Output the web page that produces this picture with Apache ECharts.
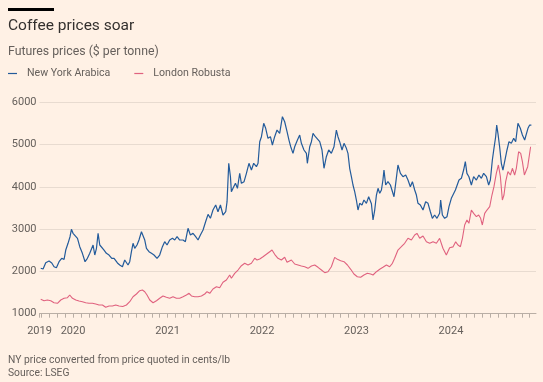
<!DOCTYPE html>
<html><head><meta charset="utf-8">
<script src="https://cdn.jsdelivr.net/npm/echarts@6/dist/echarts.min.js"></script>
<style>html,body{margin:0;padding:0;background:#fff1e5;}#c{width:543px;height:382px;}</style>
</head><body><div id="c"></div><script>
// Dates as decimal years, values in $ per tonne
const arabicaYears = [2019.658,2019.683,2019.711,2019.746,2019.775,2019.799,2019.824,2019.852,2019.880,2019.905,2019.923,2019.947,2019.968,2019.983,2020.000,2020.021,2020.047,2020.071,2020.099,2020.127,2020.152,2020.177,2020.198,2020.212,2020.230,2020.248,2020.265,2020.283,2020.304,2020.328,2020.353,2020.381,2020.410,2020.434,2020.470,2020.494,2020.523,2020.547,2020.582,2020.600,2020.618,2020.635,2020.653,2020.677,2020.698,2020.724,2020.741,2020.759,2020.777,2020.804,2020.830,2020.857,2020.889,2020.917,2020.946,2020.970,2020.995,2021.023,2021.052,2021.076,2021.101,2021.129,2021.164,2021.189,2021.217,2021.242,2021.270,2021.298,2021.323,2021.348,2021.376,2021.404,2021.429,2021.454,2021.481,2021.510,2021.534,2021.560,2021.587,2021.616,2021.630,2021.648,2021.666,2021.676,2021.693,2021.719,2021.740,2021.764,2021.782,2021.810,2021.835,2021.862,2021.888,2021.912,2021.941,2021.958,2021.976,2021.994,2022.018,2022.039,2022.063,2022.089,2022.110,2022.134,2022.159,2022.187,2022.216,2022.240,2022.265,2022.286,2022.304,2022.328,2022.346,2022.375,2022.399,2022.417,2022.444,2022.470,2022.480,2022.505,2022.523,2022.540,2022.565,2022.586,2022.611,2022.635,2022.656,2022.681,2022.706,2022.734,2022.762,2022.787,2022.804,2022.822,2022.847,2022.868,2022.893,2022.910,2022.928,2022.946,2022.963,2022.981,2022.999,2023.016,2023.034,2023.058,2023.079,2023.105,2023.129,2023.158,2023.175,2023.193,2023.211,2023.228,2023.246,2023.264,2023.280,2023.291,2023.309,2023.333,2023.359,2023.380,2023.397,2023.415,2023.439,2023.465,2023.492,2023.521,2023.545,2023.570,2023.592,2023.616,2023.634,2023.651,2023.676,2023.704,2023.732,2023.757,2023.782,2023.803,2023.827,2023.852,2023.880,2023.891,2023.909,2023.933,2023.958,2023.979,2024.004,2024.021,2024.047,2024.063,2024.085,2024.110,2024.134,2024.152,2024.169,2024.190,2024.216,2024.240,2024.269,2024.296,2024.322,2024.346,2024.375,2024.399,2024.417,2024.438,2024.455,2024.473,2024.484,2024.497,2024.515,2024.533,2024.550,2024.571,2024.593,2024.614,2024.639,2024.664,2024.685,2024.709,2024.734,2024.756,2024.780,2024.798,2024.815,2024.833,2024.851];
const arabicaValues = [2074,2057,2206,2246,2200,2111,2088,2230,2310,2286,2506,2665,2821,2996,2901,2939,2783,2585,2428,2230,2310,2428,2388,2625,2388,2547,2901,2625,2665,2506,2428,2388,2310,2310,2200,2152,2111,2270,2152,2230,2466,2665,2547,2625,2743,2939,2980,2743,2547,2466,2428,2388,2310,2388,2585,2703,2625,2743,2783,2743,2821,2743,2743,2703,3020,2861,2901,2821,2743,2861,2980,3180,3350,3256,3452,3571,3412,3571,3334,3412,3649,4557,4240,3885,3966,4084,3966,4320,4084,4122,4320,4557,4398,4557,4477,4557,5068,5186,5503,5385,5148,5186,4990,5186,5344,5267,5659,5540,5305,5100,4949,4793,4949,5108,5226,5030,4872,4793,4557,4949,5068,5267,5186,5226,5068,4872,4439,4713,4872,4793,4949,5344,5186,5068,4872,5030,4911,4793,4439,4240,4044,3885,3689,3452,3610,3571,3689,3610,3767,3600,3216,3452,3807,3966,3847,3925,4162,4398,4044,4122,4044,4084,3767,4084,4517,4320,4240,4280,4162,4004,4122,3925,3807,3610,3571,3452,3649,3610,3412,3256,3334,3256,3374,3689,3334,3256,3295,3531,3729,3689,3925,3885,4162,4202,4398,4595,4320,4240,4044,4240,4162,4280,4202,4320,4240,4044,4162,4635,4911,5186,5462,5267,4949,4557,4398,4439,4872,5068,5030,5148,5068,5503,5385,5226,5108,5068,5385,5462,5462];
const robustaYears = [2019.658,2019.693,2019.729,2019.764,2019.799,2019.835,2019.870,2019.905,2019.941,2019.965,2019.994,2020.029,2020.063,2020.099,2020.134,2020.169,2020.205,2020.240,2020.275,2020.311,2020.346,2020.381,2020.417,2020.452,2020.487,2020.526,2020.565,2020.600,2020.635,2020.671,2020.706,2020.734,2020.759,2020.783,2020.812,2020.847,2020.883,2020.917,2020.952,2020.988,2021.023,2021.058,2021.094,2021.129,2021.164,2021.200,2021.228,2021.253,2021.288,2021.323,2021.359,2021.394,2021.418,2021.447,2021.481,2021.518,2021.552,2021.587,2021.623,2021.658,2021.676,2021.711,2021.746,2021.782,2021.817,2021.852,2021.888,2021.923,2021.947,2021.976,2022.011,2022.046,2022.082,2022.106,2022.134,2022.169,2022.205,2022.240,2022.265,2022.286,2022.311,2022.346,2022.381,2022.417,2022.452,2022.487,2022.523,2022.558,2022.593,2022.629,2022.664,2022.698,2022.734,2022.769,2022.798,2022.833,2022.868,2022.904,2022.939,2022.973,2023.009,2023.044,2023.079,2023.115,2023.150,2023.175,2023.211,2023.246,2023.280,2023.317,2023.351,2023.380,2023.404,2023.439,2023.475,2023.510,2023.545,2023.581,2023.616,2023.640,2023.669,2023.704,2023.740,2023.775,2023.810,2023.846,2023.880,2023.915,2023.951,2023.986,2024.021,2024.050,2024.074,2024.100,2024.121,2024.145,2024.169,2024.190,2024.216,2024.240,2024.269,2024.293,2024.314,2024.332,2024.357,2024.381,2024.410,2024.434,2024.455,2024.480,2024.502,2024.523,2024.544,2024.561,2024.579,2024.603,2024.629,2024.650,2024.674,2024.692,2024.716,2024.738,2024.756,2024.777,2024.798,2024.812,2024.826,2024.843];
const robustaValues = [1340,1307,1324,1307,1260,1246,1324,1364,1378,1442,1364,1324,1300,1284,1260,1246,1246,1229,1206,1206,1151,1182,1182,1206,1182,1170,1206,1284,1402,1466,1544,1560,1520,1442,1324,1260,1307,1364,1419,1388,1364,1402,1364,1364,1402,1442,1482,1419,1402,1402,1419,1466,1520,1482,1584,1639,1615,1742,1797,1915,1837,1955,2033,2135,2192,2152,2192,2310,2270,2294,2348,2405,2466,2506,2405,2310,2270,2335,2216,2260,2270,2175,2152,2128,2111,2073,2128,2152,2097,2033,1970,1993,2111,2333,2286,2253,2230,2152,2050,1939,1875,1861,1915,1955,1939,1915,1993,2050,2097,2152,2111,2192,2310,2506,2585,2665,2783,2743,2861,2901,2783,2838,2703,2665,2703,2665,2783,2547,2388,2560,2580,2700,2625,2585,2783,3098,3216,3138,3452,3374,3295,3334,3256,3098,3374,3452,3531,3807,4004,4320,4517,4240,3689,3807,4122,4359,4280,4439,4280,4439,4831,4793,4595,4280,4240,4477,4439,4949];
const yearTickPositions = [2019.645, 2020, 2021, 2022, 2023, 2024];
const yearTickLabels = ['2019', '2020', '2021', '2022', '2023', '2024'];
const seriesNames = ['New York Arabica', 'London Robusta'];
const xMin = 2019.645, xMax = 2024.9;

const monthTicks = [xMin];
for (let m = Math.ceil(xMin * 12); m / 12 <= xMax; m++) monthTicks.push(m / 12);

const chart = echarts.init(document.getElementById('c'), null, {renderer: 'canvas'});
const grey = '#66605c';
const font = 'Roboto, "Noto Sans", sans-serif';
chart.setOption({
  backgroundColor: '#fff1e5',
  animation: false,
  textStyle: {fontFamily: font},
  grid: {left: 39.5, right: 7, top: 102.3, bottom: 68.3, outerBoundsMode: 'none'},
  legend: {
    data: seriesNames, left: 8, top: 68, padding: 0, itemGap: 24,
    itemWidth: 9, itemHeight: 1.2, icon: 'rect',
    textStyle: {fontSize: 10.6, color: grey, fontFamily: font, padding: [0, 0, 0, 5]}
  },
  graphic: [
    {type: 'rect', left: 8, top: 8, shape: {width: 46, height: 3}, style: {fill: '#000'}},
    {type: 'text', left: 8, top: 18.5, style: {text: 'Coffee prices soar', font: '15.5px ' + font, fill: '#33302e'}},
    {type: 'text', left: 8, top: 45.5, style: {text: 'Futures prices ($ per tonne)', font: '12.3px ' + font, fill: grey}},
    {type: 'text', left: 8, top: 355.5, style: {text: 'NY price converted from price quoted in cents/lb', font: '10.3px ' + font, fill: grey}},
    {type: 'text', left: 8, top: 368.5, style: {text: 'Source: LSEG', font: '10.3px ' + font, fill: grey}}
  ],
  xAxis: {
    type: 'value', min: xMin, max: xMax,
    splitLine: {show: false},
    axisLine: {show: true, lineStyle: {color: '#b9aea5', width: 1}},
    axisTick: {show: true, customValues: monthTicks, length: 4, lineStyle: {color: '#b9aea5'}},
    axisLabel: {
      customValues: yearTickPositions, margin: 12, fontSize: 11, color: grey, fontFamily: font,
      formatter: v => {
        let best = 0;
        yearTickPositions.forEach((p, i) => { if (Math.abs(p - v) < Math.abs(yearTickPositions[best] - v)) best = i; });
        return yearTickLabels[best];
      }
    }
  },
  yAxis: {
    type: 'value', min: 1000, max: 6000, interval: 1000,
    axisLine: {show: false}, axisTick: {show: false},
    axisLabel: {fontSize: 11, color: grey, margin: 3, fontFamily: font, formatter: v => String(v)},
    splitLine: {lineStyle: {color: '#e8dbd0', width: 1}}
  },
  series: [
    {name: seriesNames[1], type: 'line', showSymbol: false, symbol: 'none', z: 2,
     data: robustaYears.map((y, i) => [y, robustaValues[i]]),
     itemStyle: {color: '#e0627f'}, lineStyle: {color: '#e0627f', width: 1.1}},
    {name: seriesNames[0], type: 'line', showSymbol: false, symbol: 'none', z: 3,
     data: arabicaYears.map((y, i) => [y, arabicaValues[i]]),
     itemStyle: {color: '#235b9b'}, lineStyle: {color: '#235b9b', width: 1.2}}
  ]
});
</script></body></html>
